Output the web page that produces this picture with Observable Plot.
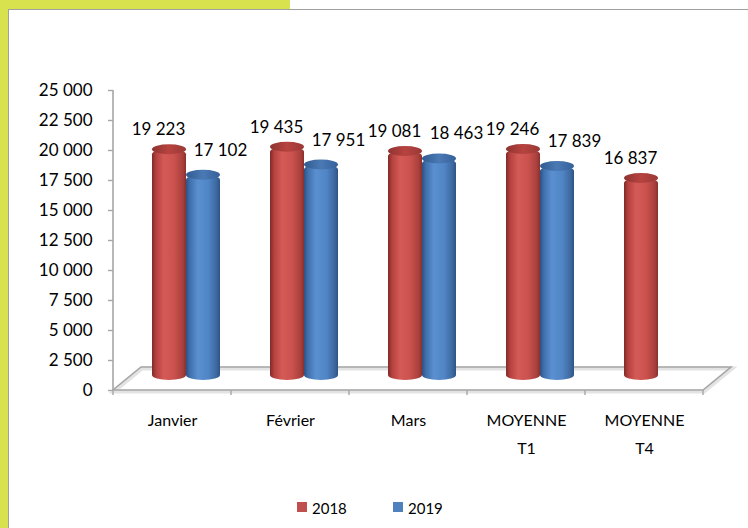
<!DOCTYPE html>
<html>
<head>
<meta charset="utf-8">
<script src="https://cdn.jsdelivr.net/npm/d3@7"></script>
<script src="https://cdn.jsdelivr.net/npm/@observablehq/plot@0.6"></script>
<style>
  html, body { margin: 0; padding: 0; background: #fff; }
  #wrap { position: relative; width: 748px; height: 528px; overflow: hidden; background: #fff; font-family: Lato, "Open Sans", sans-serif; }
  .deco { position: absolute; }
  #chart { position: absolute; left: 0; top: 0; }
  #legend { position: absolute; top: 499px; left: 0; width: 748px; height: 24px; font-size: 15px; color: #000; }
  .sw { position: absolute; top: 3px; width: 10px; height: 10px; }
  .lt { position: absolute; top: 0px; }
</style>
</head>
<body>
<div id="wrap">
  <div class="deco" style="left:0;top:0;width:8px;height:528px;background:#d8e24f"></div>
  <div class="deco" style="left:0;top:0;width:290px;height:9px;background:#d8e24f"></div>
  <div class="deco" style="left:8px;top:9px;width:740px;height:1px;background:#a0a0a0"></div>
  <div class="deco" style="left:8px;top:9px;width:1px;height:519px;background:#a0a0a0"></div>
  <div id="chart"></div>
  <div id="legend"></div>
</div>
<script>
// ---- data ----
const categories = ["Janvier", "Février", "Mars", "MOYENNE\nT1", "MOYENNE\nT4"];
const series = ["2018", "2019"];
const values2018 = [19223, 19435, 19081, 19246, 16837];
const values2019 = [17102, 17951, 18463, 17839, null];
const yTicks = [0, 2500, 5000, 7500, 10000, 12500, 15000, 17500, 20000, 22500, 25000];
const seriesColors = {"2018": "#c0504d", "2019": "#4f81bd"};

const rows = [];
categories.forEach((c, i) => {
  if (values2018[i] != null) rows.push({cat: c, series: "2018", value: values2018[i]});
  if (values2019[i] != null) rows.push({cat: c, series: "2019", value: values2019[i]});
});
const r18 = rows.filter(d => d.series === "2018");
const r19 = rows.filter(d => d.series === "2019");

const fr = d3.formatLocale({decimal: ",", thousands: "\u00a0", grouping: [3], currency: ["", ""]});
const fmt = fr.format(",d");

const grey = "#a6a6a6";

// decoration: 3D floor + axis lines, computed from the scales
function floor(index, scales, values, dimensions) {
  const g = d3.create("svg:g");
  const y0 = scales.y(0);
  const yTop = scales.y(25000);
  const left = dimensions.marginLeft;
  const right = dimensions.width - dimensions.marginRight;
  const depthX = 28, depthY = 23;
  const pts = [[left, y0], [right, y0], [right + depthX, y0 - depthY], [left + depthX, y0 - depthY]];
  g.append("path")
    .attr("d", "M" + pts.map(p => p.join(",")).join("L") + "Z")
    .attr("fill", "none").attr("stroke", "#e3e3e3").attr("stroke-width", 4)
    .attr("transform", "translate(1,1.5)");
  g.append("path")
    .attr("d", "M" + pts.map(p => p.join(",")).join("L") + "Z")
    .attr("fill", "none").attr("stroke", grey).attr("stroke-width", 1.6);
  // vertical axis line
  g.append("line").attr("x1", left).attr("x2", left).attr("y1", yTop).attr("y2", y0)
    .attr("stroke", grey).attr("stroke-width", 1.6);
  // x ticks at band boundaries
  const bounds = scales.scales.x.domain.map(c => scales.x(c)).concat([right]);
  for (const bx of bounds) {
    g.append("line").attr("x1", bx).attr("x2", bx).attr("y1", y0).attr("y2", y0 + 5)
      .attr("stroke", grey).attr("stroke-width", 1.4);
  }
  return g.node();
}

function addDefs(svg) {
  const defs = d3.select(svg).insert("defs", ":first-child");
  const mk = (id, stops) => {
    const lg = defs.append("linearGradient").attr("id", id).attr("x1", "0").attr("x2", "1").attr("y1", "0").attr("y2", "0");
    stops.forEach(([o, c]) => lg.append("stop").attr("offset", o).attr("stop-color", c));
  };
  mk("gRed", [[0, "#7f2b29"], [0.12, "#b5413e"], [0.35, "#d35a56"], [0.65, "#cb524e"], [0.9, "#a9403d"], [1, "#8a302e"]]);
  mk("gBlue", [[0, "#2c5284"], [0.12, "#4171ad"], [0.35, "#5a8fd0"], [0.65, "#5186c6"], [0.9, "#3d689f"], [1, "#2e5484"]]);
  mk("gRedTop", [[0, "#8e3432"], [0.5, "#b7433f"], [1, "#9a3936"]]);
  mk("gBlueTop", [[0, "#315b90"], [0.5, "#4a79b4"], [1, "#36619a"]]);
}

const font = "Lato, 'Open Sans', sans-serif";
const barOff = -10;

const plot = Plot.plot({
  width: 748,
  height: 470,
  marginLeft: 113,
  marginRight: 45,
  marginTop: 90,
  marginBottom: 80,
  style: {fontFamily: font, fontSize: "17px", color: "#000", background: "transparent"},
  x: {domain: categories, paddingInner: 0, paddingOuter: 0, label: null},
  y: {domain: [0, 25000], label: null},
  marks: [
    floor,
    Plot.axisY({ticks: yTicks, tickFormat: fmt, tickSize: 5, tickPadding: 16, stroke: grey, strokeWidth: 1.4, fill: "#000", fontSize: 17, label: null}),
    Plot.axisX({tickSize: 0, tickPadding: 16, fill: "#000", fontSize: 16, lineHeight: 1.75, label: null}),
    // cylinder bodies
    Plot.barY(r18, {x: "cat", y: "value", fill: "url(#gRed)", insetLeft: 39, insetRight: 45, rx: 17, ry: 5, dy: barOff}),
    Plot.barY(r19, {x: "cat", y: "value", fill: "url(#gBlue)", insetLeft: 73, insetRight: 11, rx: 17, ry: 5, dy: barOff}),
    // cylinder tops
    Plot.barY(r18, {x: "cat", y1: "value", y2: "value", fill: "url(#gRedTop)", insetLeft: 39, insetRight: 45, insetTop: -5, insetBottom: -5, rx: 17, ry: 5, dy: barOff}),
    Plot.barY(r19, {x: "cat", y1: "value", y2: "value", fill: "url(#gBlueTop)", insetLeft: 73, insetRight: 11, insetTop: -5, insetBottom: -5, rx: 17, ry: 5, dy: barOff}),
    // data labels
    Plot.text(r18, {x: "cat", y: "value", text: d => fmt(d.value), dx: -14, dy: -30, fontSize: 17, fill: "#000"}),
    Plot.text(r19, {x: "cat", y: "value", text: d => fmt(d.value), dx: 48, dy: -35, fontSize: 17, fill: "#000"})
  ]
});
addDefs(plot);
document.getElementById("chart").appendChild(plot);

// legend
const legend = document.getElementById("legend");
const legendX = {"2018": 297, "2019": 393};
series.forEach(s => {
  const sw = document.createElement("div");
  sw.className = "sw";
  sw.style.left = legendX[s] + "px";
  sw.style.background = seriesColors[s];
  legend.appendChild(sw);
  const t = document.createElement("div");
  t.className = "lt";
  t.style.left = (legendX[s] + 15) + "px";
  t.textContent = s;
  legend.appendChild(t);
});
</script>
</body>
</html>
